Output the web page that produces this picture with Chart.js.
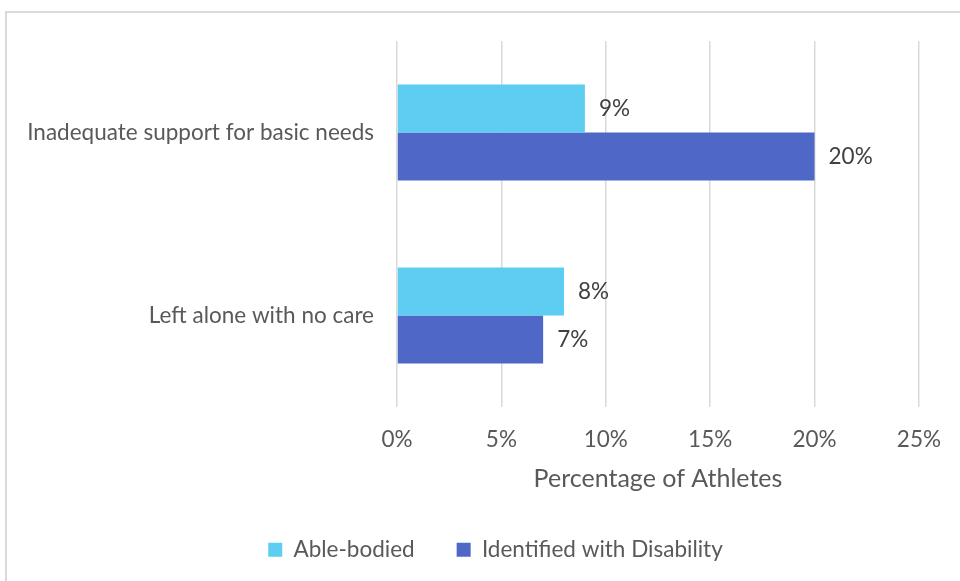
<!DOCTYPE html>
<html>
<head>
<meta charset="utf-8">
<script src="https://cdn.jsdelivr.net/npm/chart.js@4.4.1/dist/chart.umd.min.js"></script>
<style>
  html, body { margin: 0; padding: 0; background: #fff; }
  #wrap { position: relative; width: 960px; height: 581px; }
  #frame { position: absolute; left: 5px; top: 11px; width: 970px; height: 600px; border: 2px solid #d9d9d9; box-sizing: border-box; pointer-events: none; }
  canvas { position: absolute; left: 0; top: 0; }
</style>
</head>
<body>
<div id="wrap">
  <canvas id="chart" width="960" height="581"></canvas>
  <div id="frame"></div>
</div>
<script>
const categories = ['Inadequate support for basic needs', 'Left alone with no care'];
const ableBodied = [9, 8];
const disability = [20, 7];
const seriesNames = ['Able-bodied', 'Identified with Disability'];
const xTicks = [0, 5, 10, 15, 20, 25];

const font = 'Lato, "Open Sans", sans-serif';

const valueLabels = {
  id: 'valueLabels',
  afterDatasetsDraw(chart) {
    const ctx = chart.ctx;
    ctx.save();
    ctx.font = '22.5px ' + font;
    ctx.fillStyle = '#404040';
    ctx.textAlign = 'left';
    ctx.textBaseline = 'middle';
    chart.data.datasets.forEach((ds, i) => {
      chart.getDatasetMeta(i).data.forEach((bar, j) => {
        ctx.fillText(ds.data[j] + '%', bar.x + 14, bar.y);
      });
    });
    ctx.restore();
  }
};

// nudge the legend a bit to the right, like the original
const legendShift = {
  id: 'legendShift',
  afterLayout(chart) {
    if (!chart.legend) return;
    chart.legend.left += 35;
    chart.legend.right += 35;
  }
};

new Chart(document.getElementById('chart').getContext('2d'), {
  type: 'bar',
  data: {
    labels: categories,
    datasets: [
      { label: seriesNames[0], data: ableBodied, backgroundColor: '#5ecdf2' },
      { label: seriesNames[1], data: disability, backgroundColor: '#4f68c8' }
    ]
  },
  options: {
    indexAxis: 'y',
    responsive: false,
    animation: false,
    layout: { padding: { top: 41, right: 39, left: 0, bottom: 10 } },
    datasets: { bar: { categoryPercentage: 0.525, barPercentage: 1 } },
    scales: {
      x: {
        min: 0, max: 25,
        afterBuildTicks: s => { s.ticks = xTicks.map(v => ({ value: v })); },
        ticks: { callback: v => v + '%', color: '#595959', font: { family: font, size: 22.5 }, padding: 19 },
        grid: { color: '#d9d9d9', lineWidth: 1.5, drawTicks: false },
        border: { display: false },
        title: { display: true, text: 'Percentage of Athletes', color: '#595959', font: { family: font, size: 25 }, padding: { top: 0, bottom: 3 } },
        afterFit: s => { s.height = 89.5; }
      },
      y: {
        ticks: { color: '#595959', font: { family: font, size: 22.5 }, padding: 23 },
        grid: { display: false, drawTicks: false },
        border: { display: false },
        afterFit: s => { s.width = 397; }
      }
    },
    plugins: {
      legend: {
        position: 'bottom',
        labels: { color: '#595959', font: { family: font, size: 22.5 }, boxWidth: 14, boxHeight: 14, padding: 42 }
      },
      tooltip: { enabled: false }
    }
  },
  plugins: [valueLabels, legendShift]
});
</script>
</body>
</html>
